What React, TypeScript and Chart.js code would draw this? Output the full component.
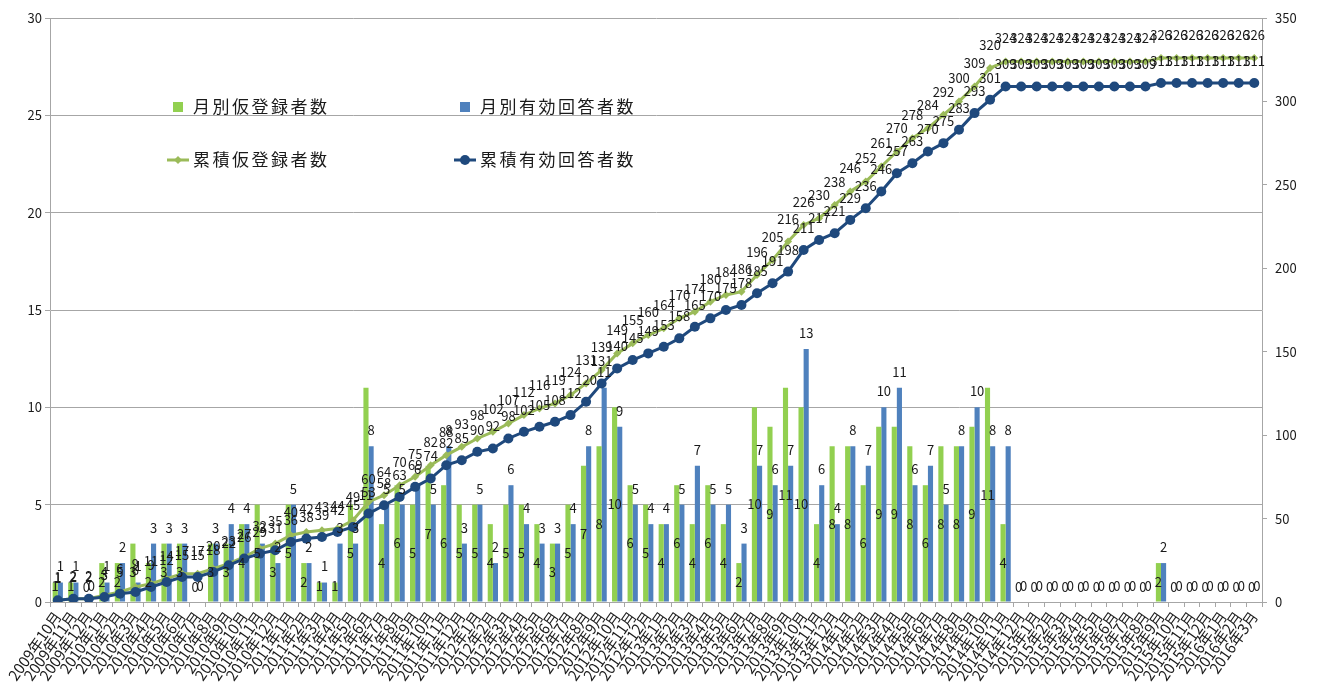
import { useEffect, useRef } from 'react';
import { Chart, registerables } from 'chart.js';

Chart.register(...registerables);

const categories = [
  '2009年10月', '2009年11月', '2009年12月',
  '2010年1月', '2010年2月', '2010年3月', '2010年4月', '2010年5月', '2010年6月', '2010年7月', '2010年8月', '2010年9月', '2010年10月', '2010年11月', '2010年12月',
  '2011年1月', '2011年2月', '2011年3月', '2011年4月', '2011年5月', '2011年6月', '2011年7月', '2011年8月', '2011年9月', '2011年10月', '2011年11月', '2011年12月',
  '2012年1月', '2012年2月', '2012年3月', '2012年4月', '2012年5月', '2012年6月', '2012年7月', '2012年8月', '2012年9月', '2012年10月', '2012年11月', '2012年12月',
  '2013年1月', '2013年2月', '2013年3月', '2013年4月', '2013年5月', '2013年6月', '2013年7月', '2013年8月', '2013年9月', '2013年10月', '2013年11月', '2013年12月',
  '2014年1月', '2014年2月', '2014年3月', '2014年4月', '2014年5月', '2014年6月', '2014年7月', '2014年8月', '2014年9月', '2014年10月', '2014年11月', '2014年12月',
  '2015年1月', '2015年2月', '2015年3月', '2015年4月', '2015年5月', '2015年6月', '2015年7月', '2015年8月', '2015年9月', '2015年10月', '2015年11月', '2015年12月',
  '2016年1月', '2016年2月', '2016年3月',
];

const monthlyRegistered = [
  1, 1, 0, 2, 2, 3, 2, 3, 3, 0,
  3, 3, 4, 5, 3, 5, 2, 1, 1, 5,
  11, 4, 6, 5, 7, 6, 5, 5, 4, 5,
  5, 4, 3, 5, 7, 8, 10, 6, 5, 4,
  6, 4, 6, 4, 2, 10, 9, 11, 10, 4,
  8, 8, 6, 9, 9, 8, 6, 8, 8, 9,
  11, 4, 0, 0, 0, 0, 0, 0, 0, 0,
  0, 2, 0, 0, 0, 0, 0, 0,
];

const monthlyResponses = [
  1, 1, 0, 1, 2, 1, 3, 3, 3, 0,
  3, 4, 4, 3, 2, 5, 2, 1, 3, 3,
  8, 5, 5, 6, 5, 8, 3, 5, 2, 6,
  4, 3, 3, 4, 8, 11, 9, 5, 4, 4,
  5, 7, 5, 5, 3, 7, 6, 7, 13, 6,
  4, 8, 7, 10, 11, 6, 7, 5, 8, 10,
  8, 8, 0, 0, 0, 0, 0, 0, 0, 0,
  0, 2, 0, 0, 0, 0, 0, 0,
];

const cumulativeRegistered = [
  1, 2, 2, 4, 6, 9, 11, 14, 17, 17,
  20, 23, 27, 32, 35, 40, 42, 43, 44, 49,
  60, 64, 70, 75, 82, 88, 93, 98, 102, 107,
  112, 116, 119, 124, 131, 139, 149, 155, 160, 164,
  170, 174, 180, 184, 186, 196, 205, 216, 226, 230,
  238, 246, 252, 261, 270, 278, 284, 292, 300, 309,
  320, 324, 324, 324, 324, 324, 324, 324, 324, 324,
  324, 326, 326, 326, 326, 326, 326, 326,
];

const cumulativeResponses = [
  1, 2, 2, 3, 5, 6, 9, 12, 15, 15,
  18, 22, 26, 29, 31, 36, 38, 39, 42, 45,
  53, 58, 63, 69, 74, 82, 85, 90, 92, 98,
  102, 105, 108, 112, 120, 131, 140, 145, 149, 153,
  158, 165, 170, 175, 178, 185, 191, 198, 211, 217,
  221, 229, 236, 246, 257, 263, 270, 275, 283, 293,
  301, 309, 309, 309, 309, 309, 309, 309, 309, 309,
  309, 311, 311, 311, 311, 311, 311, 311,
];

const leftAxisTicks = [0, 5, 10, 15, 20, 25, 30];
const rightAxisTicks = [0, 50, 100, 150, 200, 250, 300, 350];

const seriesNames = ['月別仮登録者数', '月別有効回答者数', '累積仮登録者数', '累積有効回答者数'];

const FONT = "'Noto Sans CJK JP', 'Noto Sans', sans-serif";
const GREEN_BAR = '#92D050';
const BLUE_BAR = '#4F81BD';
const GREEN_LINE = '#9BBB59';
const BLUE_LINE = '#1F497D';
const GRID = '#A6A6A6';
const TEXT = '#1a1a1a';

const valueLabelPlugin = {
  id: 'valueLabels',
  afterDatasetsDraw(chart: any) {
    const ctx = chart.ctx;
    ctx.save();
    ctx.font = `13px ${FONT}`;
    ctx.fillStyle = TEXT;
    ctx.textAlign = 'center';
    ctx.textBaseline = 'middle';
    const draw = (di: number, pos: (el: any) => { x: number; y: number }) => {
      const meta = chart.getDatasetMeta(di);
      const data = chart.data.datasets[di].data;
      meta.data.forEach((el: any, i: number) => {
        const p = pos(el);
        ctx.fillText(String(data[i]), p.x, p.y);
      });
    };
    draw(0, (el) => ({ x: el.x, y: Math.min((el.y + el.base) / 2, el.base - 15) }));
    draw(1, (el) => ({ x: el.x, y: el.y - 16 }));
    draw(2, (el) => ({ x: el.x, y: el.y - 23 }));
    draw(3, (el) => ({ x: el.x, y: el.y - 22 }));
    ctx.restore();
  },
};

const customLegendPlugin = {
  id: 'customLegend',
  afterDraw(chart: any) {
    const ctx = chart.ctx;
    ctx.save();
    ctx.font = `17px ${FONT}`;
    try {
      (ctx as any).letterSpacing = '2.5px';
    } catch (e) {
      /* ignore */
    }
    ctx.textAlign = 'left';
    ctx.textBaseline = 'middle';
    const rows = [107, 160];
    const cols = [178, 465];
    ctx.fillStyle = GREEN_BAR;
    ctx.fillRect(cols[0] - 5, rows[0] - 5, 10, 10);
    ctx.fillStyle = BLUE_BAR;
    ctx.fillRect(cols[1] - 5, rows[0] - 5, 10, 10);
    ctx.lineWidth = 3;
    ctx.strokeStyle = GREEN_LINE;
    ctx.beginPath();
    ctx.moveTo(cols[0] - 11, rows[1]);
    ctx.lineTo(cols[0] + 11, rows[1]);
    ctx.stroke();
    ctx.fillStyle = GREEN_LINE;
    ctx.beginPath();
    ctx.moveTo(cols[0], rows[1] - 4);
    ctx.lineTo(cols[0] + 4, rows[1]);
    ctx.lineTo(cols[0], rows[1] + 4);
    ctx.lineTo(cols[0] - 4, rows[1]);
    ctx.closePath();
    ctx.fill();
    ctx.strokeStyle = BLUE_LINE;
    ctx.beginPath();
    ctx.moveTo(cols[1] - 11, rows[1]);
    ctx.lineTo(cols[1] + 11, rows[1]);
    ctx.stroke();
    ctx.fillStyle = BLUE_LINE;
    ctx.beginPath();
    ctx.arc(cols[1], rows[1], 5, 0, Math.PI * 2);
    ctx.fill();
    ctx.fillStyle = TEXT;
    ctx.fillText(seriesNames[0], cols[0] + 15, rows[0]);
    ctx.fillText(seriesNames[1], cols[1] + 15, rows[0]);
    ctx.fillText(seriesNames[2], cols[0] + 15, rows[1]);
    ctx.fillText(seriesNames[3], cols[1] + 15, rows[1]);
    ctx.restore();
  },
};

export default function App() {
  const canvasRef = useRef<HTMLCanvasElement | null>(null);

  useEffect(() => {
    document.body.style.margin = '0';
    const canvas = canvasRef.current;
    if (!canvas) return;
    const tickFont = { family: FONT, size: 13 };
    const chart = new Chart(canvas, {
      type: 'bar',
      data: {
        labels: categories,
        datasets: [
          {
            type: 'bar',
            label: seriesNames[0],
            data: monthlyRegistered,
            backgroundColor: GREEN_BAR,
            yAxisID: 'y',
            order: 3,
            barPercentage: 1,
            categoryPercentage: 0.66,
          },
          {
            type: 'bar',
            label: seriesNames[1],
            data: monthlyResponses,
            backgroundColor: BLUE_BAR,
            yAxisID: 'y',
            order: 4,
            barPercentage: 1,
            categoryPercentage: 0.66,
          },
          {
            type: 'line',
            label: seriesNames[2],
            data: cumulativeRegistered,
            borderColor: GREEN_LINE,
            backgroundColor: GREEN_LINE,
            borderWidth: 3,
            pointStyle: 'rectRot',
            pointRadius: 4,
            pointBorderWidth: 0,
            yAxisID: 'y1',
            order: 1,
          },
          {
            type: 'line',
            label: seriesNames[3],
            data: cumulativeResponses,
            borderColor: BLUE_LINE,
            backgroundColor: BLUE_LINE,
            borderWidth: 3,
            pointStyle: 'circle',
            pointRadius: 5,
            pointBorderWidth: 0,
            yAxisID: 'y1',
            order: 0,
          },
        ] as any,
      },
      options: {
        responsive: false,
        animation: false,
        layout: { padding: { top: 18, left: 0, right: 0, bottom: 0 } },
        plugins: { legend: { display: false }, tooltip: { enabled: false } },
        scales: {
          x: {
            grid: { display: true, drawOnChartArea: false, offset: true, tickLength: 5, color: GRID },
            border: { color: GRID },
            ticks: { autoSkip: false, maxRotation: 55, minRotation: 55, font: { family: FONT, size: 15 }, color: TEXT, padding: 1 },
            afterFit: (s: any) => {
              s.height = 88;
              s.paddingLeft = 0;
              s.paddingRight = 0;
            },
          },
          y: {
            position: 'left',
            min: leftAxisTicks[0],
            max: leftAxisTicks[leftAxisTicks.length - 1],
            afterBuildTicks: (s: any) => {
              s.ticks = leftAxisTicks.map((v) => ({ value: v }));
            },
            ticks: { font: tickFont, color: TEXT, padding: 3 },
            grid: { color: GRID, tickLength: 5 },
            border: { color: GRID },
            afterFit: (s: any) => {
              s.width = 50;
            },
          },
          y1: {
            position: 'right',
            min: rightAxisTicks[0],
            max: rightAxisTicks[rightAxisTicks.length - 1],
            afterBuildTicks: (s: any) => {
              s.ticks = rightAxisTicks.map((v) => ({ value: v }));
            },
            ticks: { font: tickFont, color: TEXT, padding: 8 },
            grid: { drawOnChartArea: false, color: GRID, tickLength: 5 },
            border: { color: GRID },
            afterFit: (s: any) => {
              s.width = 67;
            },
          },
        },
      } as any,
      plugins: [valueLabelPlugin, customLegendPlugin],
    });
    return () => chart.destroy();
  }, []);

  return (
    <div style={{ width: 1329, height: 690, background: '#fff' }}>
      <canvas ref={canvasRef} width={1329} height={690} style={{ display: 'block' }} />
    </div>
  );
}
